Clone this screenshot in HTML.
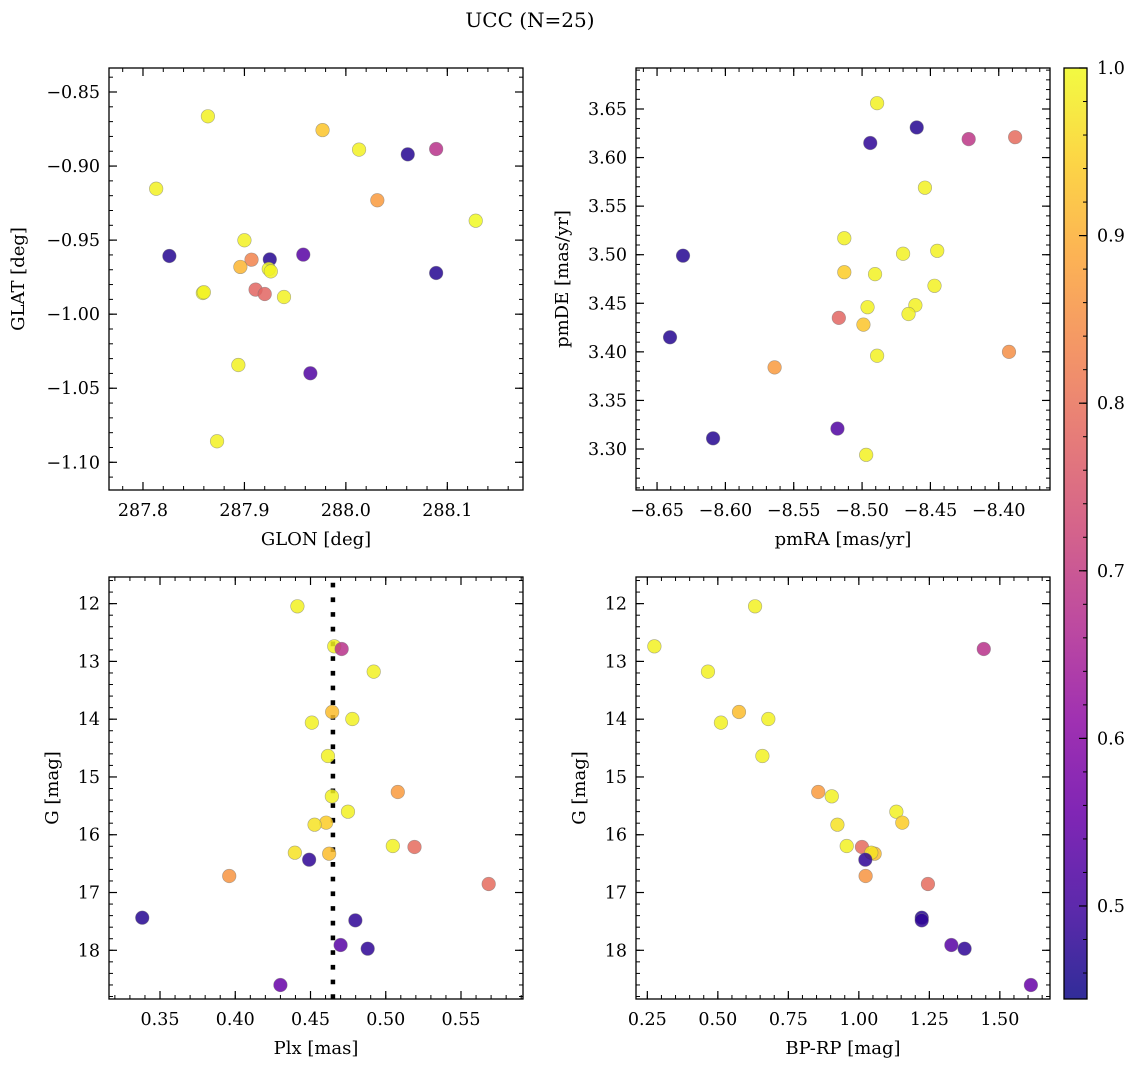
<!DOCTYPE html>
<html><head><meta charset="utf-8"><title>UCC (N=25)</title>
<style>
html,body{margin:0;padding:0;background:#fff;}
svg{display:block;font-family:"DejaVu Serif","Liberation Serif",serif;}
</style></head>
<body>
<svg id="fig" width="1136" height="1067" viewBox="0 0 1136 1067" xmlns="http://www.w3.org/2000/svg">
<text x="530" y="27" font-size="20" text-anchor="middle">UCC (N=25)</text>
</svg>
<script>
// ---- data: top-left (GLON/GLAT) ----
const glon = [287.864,287.977,288.013,288.061,288.089,287.813,288.031,288.128,287.826,287.900,287.958,287.907,287.896,287.925,287.924,287.926,288.089,287.859,287.860,287.911,287.920,287.939,287.894,287.965,287.873];
const glat = [-0.8664,-0.8757,-0.8889,-0.8921,-0.8885,-0.9153,-0.9231,-0.9369,-0.9607,-0.9501,-0.9598,-0.9632,-0.9681,-0.9630,-0.9695,-0.9711,-0.9722,-0.9857,-0.9852,-0.9834,-0.9864,-0.9884,-1.0343,-1.0399,-1.0858];
const probTL = [0.99,0.93,0.99,0.47,0.68,0.99,0.87,1.0,0.47,0.99,0.53,0.83,0.91,0.47,1.0,0.99,0.47,1.0,0.99,0.78,0.78,0.99,0.99,0.52,0.99];
// ---- data: top-right (pmRA/pmDE) ----
const pmra = [-8.489,-8.460,-8.494,-8.422,-8.388,-8.454,-8.513,-8.631,-8.470,-8.445,-8.513,-8.4905,-8.447,-8.461,-8.496,-8.466,-8.517,-8.499,-8.6405,-8.3925,-8.489,-8.564,-8.518,-8.609,-8.497];
const pmde = [3.656,3.631,3.615,3.619,3.621,3.569,3.517,3.499,3.501,3.504,3.482,3.480,3.468,3.448,3.446,3.439,3.435,3.428,3.415,3.400,3.396,3.384,3.321,3.311,3.294];
const probTR = [0.99,0.47,0.48,0.69,0.79,0.99,0.99,0.47,0.99,0.99,0.94,0.99,0.99,0.99,0.99,0.99,0.78,0.93,0.47,0.85,0.99,0.87,0.52,0.47,0.99];
// ---- data: bottom panels (Plx, BP-RP vs G) ----
const plx  = [0.4413,0.4658,0.4707,0.492,0.4644,0.4509,0.4778,0.4616,0.4642,0.4749,0.508,0.4604,0.4527,0.5047,0.5191,0.4624,0.4396,0.4491,0.396,0.5684,0.3382,0.4798,0.470,0.488,0.430];
const bprp = [0.632,0.275,1.443,0.465,0.575,0.511,0.679,0.658,0.904,1.133,0.856,1.154,0.924,0.957,1.011,1.056,1.044,1.023,1.024,1.245,1.223,1.223,1.328,1.375,1.610];
const gmag = [12.046,12.739,12.785,13.177,13.875,14.060,13.997,14.637,15.335,15.601,15.260,15.791,15.826,16.195,16.212,16.328,16.311,16.432,16.714,16.853,17.436,17.482,17.909,17.972,18.601];
const probB = [0.99,0.99,0.68,0.99,0.92,0.99,0.99,0.99,0.99,0.99,0.87,0.94,0.97,0.99,0.79,0.92,0.97,0.48,0.86,0.79,0.47,0.48,0.53,0.48,0.55];
const plxLine = [0.4649];
// ---- ticks ----
const ticksTLx = [287.8,287.9,288.0,288.1];
const ticksTLy = [-0.85,-0.90,-0.95,-1.00,-1.05,-1.10];
const ticksTRx = [-8.65,-8.60,-8.55,-8.50,-8.45,-8.40];
const ticksTRy = [3.30,3.35,3.40,3.45,3.50,3.55,3.60,3.65];
const ticksBLx = [0.35,0.40,0.45,0.50,0.55];
const ticksBRx = [0.25,0.50,0.75,1.00,1.25,1.50];
const ticksGy = [12,13,14,15,16,17,18];
const ticksCb = [0.5,0.6,0.7,0.8,0.9,1.0];

const NS='http://www.w3.org/2000/svg';
const svg=document.getElementById('fig');
function mk(tag,attrs,parent){const e=document.createElementNS(NS,tag);for(const k in attrs)e.setAttribute(k,attrs[k]);(parent||svg).appendChild(e);return e;}
const VMIN=0.4445, VMAX=1.0;
const plasma=[[13,8,135],[65,4,157],[106,0,168],[143,13,164],[177,42,144],[204,71,120],[225,100,98],[242,132,75],[252,166,54],[252,206,37],[240,249,33]];
function cmap(v){let t=(v-VMIN)/(VMAX-VMIN);t=Math.max(0,Math.min(1,t))*10;const i=Math.min(9,Math.floor(t)),f=t-i;const a=plasma[i],b=plasma[i+1];return 'rgb('+[0,1,2].map(k=>Math.round(a[k]+(b[k]-a[k])*f)).join(',')+')';}
function fmt(v,d){return (v<0?'\u2212':'')+Math.abs(v).toFixed(d);}

function panel(o){
  const g=mk('g',{});
  
  
  const sx=v=>o.x0+(v-o.xmin)/(o.xmax-o.xmin)*o.w;
  const sy=o.yinv? (v=>o.y0+(v-o.ymin)/(o.ymax-o.ymin)*o.h) : (v=>o.y0+(o.ymax-v)/(o.ymax-o.ymin)*o.h);
  const tg=mk('g',{stroke:'#000','stroke-width':1},g);
  
  
  const lo=Math.min(o.xmin,o.xmax),hi=Math.max(o.xmin,o.xmax);
  for(let k=Math.ceil(lo/o.xminor-1e-6);k*o.xminor<=hi+1e-9;k++){const X=sx(k*o.xminor);if(X<o.x0||X>o.x0+o.w)continue;
    mk('line',{x1:X,x2:X,y1:o.y0+o.h,y2:o.y0+o.h-4},tg);mk('line',{x1:X,x2:X,y1:o.y0,y2:o.y0+4},tg);}
  const ylo=Math.min(o.ymin,o.ymax),yhi=Math.max(o.ymin,o.ymax);
  for(let k=Math.ceil(ylo/o.yminor-1e-6);k*o.yminor<=yhi+1e-9;k++){const Y=sy(k*o.yminor);if(Y<o.y0||Y>o.y0+o.h)continue;
    mk('line',{x1:o.x0,x2:o.x0+4,y1:Y,y2:Y},tg);mk('line',{x1:o.x0+o.w,x2:o.x0+o.w-4,y1:Y,y2:Y},tg);}
  o.xt.forEach(v=>{const X=sx(v);
    mk('line',{x1:X,x2:X,y1:o.y0+o.h,y2:o.y0+o.h-8,'stroke-width':1.2},tg);mk('line',{x1:X,x2:X,y1:o.y0,y2:o.y0+8,'stroke-width':1.2},tg);
    const t=mk('text',{x:X,y:o.y0+o.h+26,'font-size':17.5,'text-anchor':'middle'},g);t.textContent=fmt(v,o.xd);
    
    });
  o.yt.forEach(v=>{const Y=sy(v);
    mk('line',{x1:o.x0,x2:o.x0+8,y1:Y,y2:Y,'stroke-width':1.2},tg);mk('line',{x1:o.x0+o.w,x2:o.x0+o.w-8,y1:Y,y2:Y,'stroke-width':1.2},tg);
    const t=mk('text',{x:o.x0-9,y:Y+6,'font-size':17.5,'text-anchor':'end'},g);t.textContent=fmt(v,o.yd);
    
    });
  if(o.vline){o.vline.forEach(v=>{const l=mk('line',{x1:sx(v),x2:sx(v),y1:o.y0+o.h,y2:o.y0,stroke:'#000','stroke-width':4.5,'stroke-dasharray':'4.7 10'},g);
    
    });}
  const pg=mk('g',{},g);
  
  
  o.xs.forEach((v,i)=>{const c=mk('circle',{cx:sx(v),cy:sy(o.ys[i]),r:6.8,fill:cmap(o.p[i]),'fill-opacity':0.85,stroke:'#777','stroke-opacity':0.6,'stroke-width':0.6},pg);
    
    });
  const fr=mk('rect',{x:o.x0,y:o.y0,width:o.w,height:o.h,fill:'none',stroke:'#000','stroke-width':1.3},g);
  
  
  const xl=mk('text',{x:o.x0+o.w/2,y:o.y0+o.h+55,'font-size':18,'text-anchor':'middle'},g);xl.textContent=o.xl;
  
  
  const cy=o.y0+o.h/2;
  const yl=mk('text',{x:o.ylx,y:cy,'font-size':18,'text-anchor':'middle',transform:'rotate(-90 '+o.ylx+' '+cy+')'},g);yl.textContent=o.yl;
  
  
}
panel({name:'glon-glat-panel',x0:109,y0:68,w:414,h:422,xmin:287.7665,xmax:288.1746,ymin:-1.1187,ymax:-0.8338,xt:ticksTLx,yt:ticksTLy,xminor:0.02,yminor:0.01,xd:1,yd:2,xs:glon,ys:glat,p:probTL,xl:'GLON [deg]',yl:'GLAT [deg]',ylx:24});
panel({name:'pm-panel',x0:636,y0:68,w:414,h:422,xmin:-8.6654,xmax:-8.3625,ymin:3.2578,ymax:3.6922,xt:ticksTRx,yt:ticksTRy,xminor:0.01,yminor:0.01,xd:2,yd:2,xs:pmra,ys:pmde,p:probTR,xl:'pmRA [mas/yr]',yl:'pmDE [mas/yr]',ylx:568});
panel({name:'plx-g-panel',x0:109,y0:577,w:414,h:422,xmin:0.3161,xmax:0.5912,ymin:11.539,ymax:18.843,yinv:true,xt:ticksBLx,yt:ticksGy,xminor:0.01,yminor:0.2,xd:2,yd:0,xs:plx,ys:gmag,p:probB,xl:'Plx [mas]',yl:'G [mag]',ylx:58,vline:plxLine});
panel({name:'cmd-panel',x0:636,y0:577,w:414,h:422,xmin:0.2098,xmax:1.6778,ymin:11.539,ymax:18.843,yinv:true,xt:ticksBRx,yt:ticksGy,xminor:0.05,yminor:0.2,xd:2,yd:0,xs:bprp,ys:gmag,p:probB,xl:'BP-RP [mag]',yl:'G [mag]',ylx:585});

// colorbar
(function(){
  const x0=1064,y0=68,w=23,h=931;
  const cg=mk('g',{});
  
  
  const defs=mk('defs',{},cg);
  const lg=mk('linearGradient',{id:'cbg',x1:0,y1:1,x2:0,y2:0},defs);
  for(let i=0;i<=20;i++){const v=VMIN+(VMAX-VMIN)*i/20;mk('stop',{offset:(i/20),'stop-color':cmap(v)},lg);}
  mk('rect',{x:x0,y:y0,width:w,height:h,fill:'url(#cbg)','fill-opacity':0.85},cg);
  const sy=v=>y0+(VMAX-v)/(VMAX-VMIN)*h;
  for(let k=23;k<=50;k++){const v=k*0.02;if(v<VMIN)continue;const Y=sy(v);mk('line',{x1:x0+w,x2:x0+w-4,y1:Y,y2:Y,stroke:'#000','stroke-width':1},cg);}
  ticksCb.forEach(v=>{const Y=sy(v);mk('line',{x1:x0+w,x2:x0+w-8,y1:Y,y2:Y,stroke:'#000','stroke-width':1.2},cg);
    const t=mk('text',{x:x0+w+10,y:Y+6,'font-size':17.5},cg);t.textContent=v.toFixed(1);
    
    });
  mk('rect',{x:x0,y:y0,width:w,height:h,fill:'none',stroke:'#000','stroke-width':1.3},cg);
})();
</script>
</body></html>
